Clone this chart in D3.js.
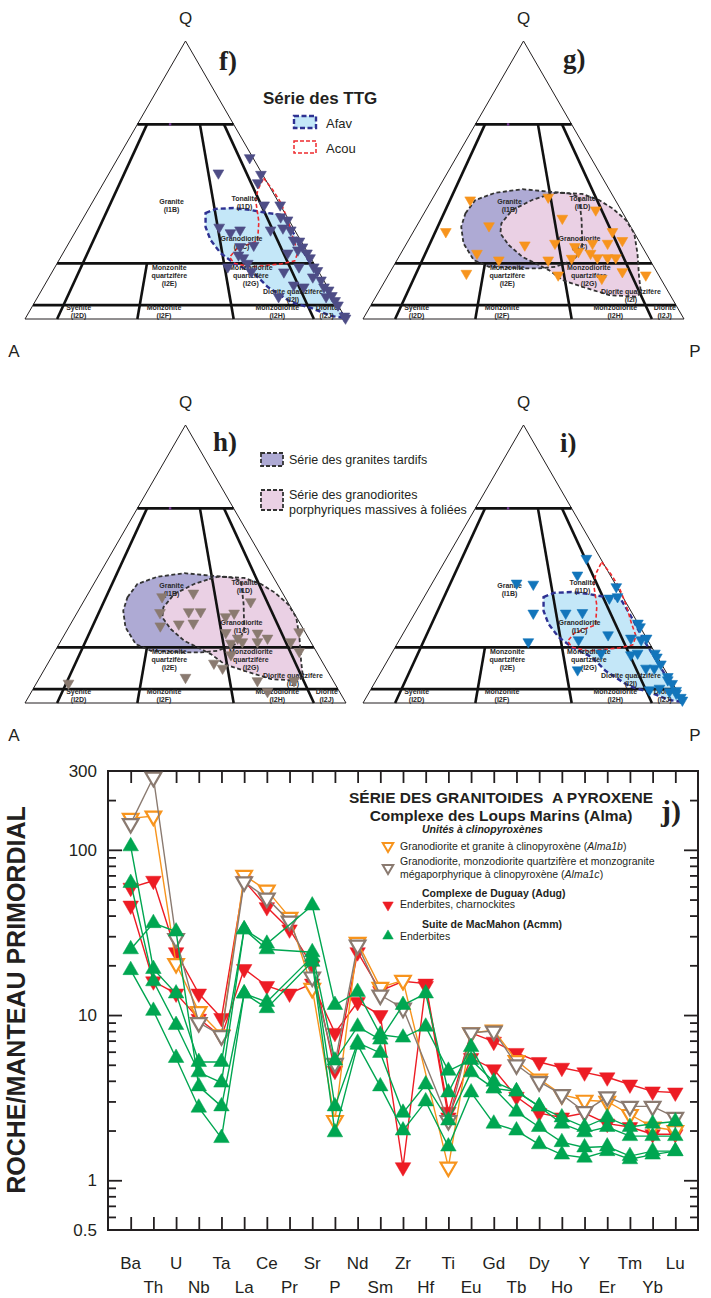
<!DOCTYPE html>
<html><head><meta charset="utf-8">
<script src="https://cdn.jsdelivr.net/npm/d3@7"></script>
<style>
body{margin:0;background:#fff}
svg{display:block}
text{font-family:"Liberation Sans",Arial,Helvetica,sans-serif;fill:#231f20}
</style></head>
<body><svg id="c" width="711" height="1298"></svg>
<script>
// ---------------- DATA ----------------
// QAP ternary points, [Q %, P %]
const ptsF = [[58,41],[52.5,34],[52,47.5],[49,48],[41,54],[41,59],[33,44],[31,48.5],[32,51],[26.5,58],[26,54],[23,55],[22,57],[32,60.5],[36.7,61.3],[35.6,64],[32.7,64],[32,66.8],[28.4,69.5],[28,71.5],[25.9,73.5],[24.8,72.6],[23.7,76],[22,77.8],[23.7,70],[18.7,76],[18.7,80.6],[17.4,82.4],[16.9,72.2],[15.1,82.1],[14,85.2],[11.5,87.4],[12.2,77.6],[11.5,81.1],[10.4,89.4],[8.4,91.4],[6.6,93.3],[5,95],[1,99],[0.3,99.7],[18.7,53.8],[20,59.4],[17,62],[8,75],[8,89.8]];
const ptsG = [[42.8,12],[31.4,10.1],[33.5,22.5],[23.6,23.7],[21.2,31.7],[16.4,24],[26.6,37.1],[43.8,35.8],[36.2,44],[27.2,46.2],[21.2,47.1],[15.8,52.9],[21.8,54.1],[26,53],[24.2,55],[27.2,57.9],[23.6,59.1],[22,62],[27.2,62.6],[22,65.2],[22,67.75],[39.2,52.9],[31.4,62],[28.2,66.7],[14.6,67.1],[17,72.3],[15.8,80.2]];
const ptsH = [[38.2,23.6],[39.5,32.7],[32.5,25.8],[27.7,28.3],[28.4,33.7],[32.8,34.6],[32.8,38.3],[28.7,38.1],[31,47],[32.3,49],[36.4,52.1],[25.3,49.9],[23.3,54.6],[22,56.7],[21.5,53.4],[25.1,59.9],[22,61.4],[23.3,63.9],[17.3,55.5],[14.3,51.7],[12.5,55.3],[9.2,45.4],[8,68.4],[25.6,72.6],[18.5,76.2],[22,71.8],[7.1,10],[4.1,73.5],[8,79.8]];
const ptsI = [[52,43.6],[46,43.8],[43.1,26.3],[42.7,31.7],[32.3,36.9],[22,40.5],[32.3,47],[32.5,52.1],[22.7,55.8],[24.5,64.1],[17.9,65.2],[11.9,60.9],[37.7,57.9],[38.2,60.2],[41.8,58],[28.7,71.3],[27.4,72.6],[23.3,71.8],[22.7,75.3],[23.3,76.7],[17.3,74.8],[17.9,76.6],[17.9,82],[16.5,83.3],[14,85.8],[12.5,81.9],[12.5,84.5],[9.5,90.2],[8.3,90.8],[7,92.8],[4.5,95.3],[1,99],[5.3,89.7],[4.1,93.4],[3.5,95.8],[2,98],[4.7,86.9]];
// Outlines of series fields, [Q %, P %]
const afavArea = [[38.1,37.2],[39.6,39.6],[39.9,45],[39.2,50.7],[38.1,56.6],[37.4,61.6],[31.3,67.8],[22.7,76.1],[13.7,85.4],[5,94.4],[0.4,99.4],[1.1,94.8],[4,87.1],[6.1,79.8],[11.5,69.9],[16.5,63],[20.1,55],[23.7,49.1],[28.4,43.6],[33.1,39.7]];
const acouArea = [[50.7,49],[46.4,54],[41.7,58.9],[35.6,64.1],[28.4,69.5],[24.1,73],[20.9,73.6],[19.8,69.8],[18.7,61],[20.1,55],[22.3,52.6],[25.2,53.3],[28.1,58.4],[34.9,55.4],[42.4,50.7],[46.4,49.3]];
const tardifsArea = [[38,12.9],[42.8,13.6],[45.4,18.5],[46.7,26.3],[45.8,35],[45.2,41.6],[43.8,45.4],[35.6,50.3],[26,55.3],[21.2,55.1],[18.8,50.6],[18.2,45.7],[18.2,40.5],[18.8,29.8],[21.2,23.9],[27.2,17.7],[33.2,14]];
const porphArea = [[44.6,35.1],[45.4,37.3],[45,45.8],[42.8,52.1],[39.8,57.8],[35.6,64.1],[30.8,69.1],[23.6,73.7],[15.2,78.4],[9.2,82],[8,81],[8.6,72.4],[11.6,62.5],[14,55.1],[17.6,49.1],[20,43.75],[22.4,38.4],[26.6,32.1],[30.8,27.4],[34.4,25.9],[39.2,26.9],[42.8,31.3]];
// QAP field boundaries [Q,P] -> [Q,P]
const fieldLines = [[[70,0],[70,30]],[[20,0],[20,80]],[[5,0],[5,95]],[[70,3],[0,10]],[[70,19.5],[0,65]],[[70,27],[0,90]],[[20,28],[0,35]]];
const fieldNames = [
 {t:["Granite","(I1B)"],q:42.1,p:24.6},
 {t:["Tonalite","(I1D)"],q:43.2,p:46.8},
 {t:["Granodiorite","(I1C)"],q:29.1,p:52.9},
 {t:["Monzonite","quartzifère","(I2E)"],q:18.7,p:35.6},
 {t:["Monzodiorite","quartzifère","(I2G)"],q:18.7,p:61},
 {t:["Diorite quartzifère","(I2I)"],q:9.9,p:78.5},
 {t:["Syenite","(I2D)"],q:4.0,p:14.7},
 {t:["Monzonite","(I2F)"],q:4.0,p:41.3},
 {t:["Monzodiorite","(I2H)"],q:4.0,p:76.6},
 {t:["Diorite","(I2J)"],q:4.0,p:92}
];

// Spider diagram
const elements = ["Ba","Th","U","Nb","Ta","La","Ce","Pr","Sr","P","Nd","Sm","Zr","Hf","Ti","Eu","Gd","Tb","Dy","Ho","Y","Er","Tm","Yb","Lu"];
const alma1b = [155,160,20.5,10.5,7.6,70,57,39,14.5,2.3,27.5,14.7,16.2,null,1.2,7.8,8.1,5.3,4.1,3.3,3.05,3.0,2.5,2.1,2.0];
const alma1c = [144,275,29,9,7.5,64,51,37,17,5.1,26.5,13.2,11,null,2.3,7.8,8.0,5.0,3.95,3.3,2.6,3.2,2.8,2.8,2.4];
const adug1 = [59,65,24,13.5,9.6,65,45,33,20,4.6,24,14,16,15.5,2.6,7.8,6.9,5.9,5.2,4.8,4.5,4.2,3.8,3.45,3.4];
const adug2 = [46,16,13.5,9.5,7.4,19,15,13.5,15.5,7.8,12,10,1.2,15,2.4,5.5,4.7,3.2,2.55,2.4,2.55,2.2,2.1,1.9,1.9];
const acmm1 = [105,19,13.5,5.2,5.2,33,27,null,46,11.5,13.8,7.6,7.3,8.5,4.6,5.35,3.95,3.45,2.8,2.4,2.1,2.4,2.1,2.2,2.27];
const acmm2 = [63,16,8.7,4.5,3.9,33,25,null,24,5.3,8.5,7.1,11.5,13.5,3.4,6.4,3.6,3.45,2.8,2.2,1.95,2.1,1.85,1.85,1.85];
const acmm3 = [25,36,32,3.7,2.8,13.5,12,null,22.5,2.8,6.8,5.9,2.56,3.8,2.3,4.5,3.6,2.6,2.1,1.7,1.58,1.6,1.4,1.5,1.5];
const acmm4 = [18.7,10.6,5.5,2.75,1.8,13.5,11,null,21,1.95,6.6,3.7,2.0,3.0,1.6,3.4,2.2,2.0,1.65,1.43,1.37,1.5,1.34,1.43,1.5];
const yTickLabels = [0.5,1,10,100,300];

// ---------------- DRAW ----------------
const svg = d3.select('#c');
const TL = 321, TH = 278;
const COL = {navy:'#2e3192', red:'#ed1c24', orange:'#f7941d', brown:'#8a7a70', green:'#00a651', blue:'#1275bb', slate:'#4e4d86'};
const styles = {
  afav:{fill:'#c4e7f8', stroke:COL.navy, w:2.4, dash:'5,3'},
  acou:{fill:'none', stroke:'#ee2a2e', w:1.6, dash:'4,2.5'},
  tardifs:{fill:'#aeaad4', stroke:'#333', w:1.8, dash:'4,2.5'},
  porph:{fill:'#ead0e4', stroke:'#333', w:1.8, dash:'4,2.5'}
};
const tris = [
  {id:'f', x0:25, y0:319, areas:[[afavArea,'afav'],[acouArea,'acou']], pts:ptsF, col:COL.slate},
  {id:'g', x0:363, y0:319, areas:[[tardifsArea,'tardifs'],[porphArea,'porph']], pts:ptsG, col:COL.orange},
  {id:'h', x0:25, y0:703, areas:[[tardifsArea,'tardifs'],[porphArea,'porph']], pts:ptsH, col:COL.brown},
  {id:'i', x0:363, y0:703, areas:[[afavArea,'afav'],[acouArea,'acou']], pts:ptsI, col:COL.blue}
];
const tri = d3.symbol(d3.symbolTriangle, 50);

tris.forEach(t => {
  const sx = d3.scaleLinear().domain([0,100]).range([t.x0, t.x0+TL]);
  const sy = d3.scaleLinear().domain([0,100]).range([t.y0, t.y0-TH]);
  const pr = d => [sx(d[1] + d[0]/2), sy(d[0])];
  const g = svg.append('g');
  const line = d3.line().x(d=>pr(d)[0]).y(d=>pr(d)[1]);
  g.append('path').attr('d', line([[100,0],[0,0],[0,100]])+'Z').attr('fill','#fff').attr('stroke','#231f20').attr('stroke-width',1);
  t.areas.forEach(([a,k]) => g.append('path').attr('d', line(a)+'Z').attr('fill', styles[k].fill).attr('stroke','none'));
  fieldLines.forEach(l => g.append('path').attr('d', line(l)).attr('stroke','#111').attr('stroke-width',2.6).attr('fill','none'));
  const c = pr([70,10.2]);
  g.append('rect').attr('x',c[0]-1.2).attr('y',c[1]-1.2).attr('width',2.4).attr('height',2.4).attr('fill','#7b3f98');
  t.areas.forEach(([a,k]) => g.append('path').attr('d', line(a)+'Z').attr('fill','none')
     .attr('stroke', styles[k].stroke).attr('stroke-width', styles[k].w).attr('stroke-dasharray', styles[k].dash));
  fieldNames.forEach(f => {
    const p = pr([f.q, f.p]);
    const tx = g.append('text').attr('text-anchor','middle').attr('font-size',7).attr('font-weight','bold').style('fill','#2a2a2a');
    f.t.forEach((s,i) => tx.append('tspan').attr('x',p[0]).attr('y',p[1]+2.5+i*8).text(s));
  });
  g.selectAll('.pt').data(t.pts).enter().append('path').attr('d', tri)
    .attr('transform', d => { const p = pr(d); return `translate(${p[0]},${p[1]}) rotate(180)`; })
    .attr('fill', t.col).attr('stroke', t.col).attr('stroke-width', 0.6);
  const apex = pr([100,0]);
  g.append('text').attr('x',apex[0]).attr('y',apex[1]-17).attr('text-anchor','middle').attr('font-size',17).text('Q');
});

[[14,357],[14,741]].forEach(p => svg.append('text').attr('x',p[0]).attr('y',p[1]).attr('text-anchor','middle').attr('font-size',17).text('A'));
[[695,357],[695,741]].forEach(p => svg.append('text').attr('x',p[0]).attr('y',p[1]).attr('text-anchor','middle').attr('font-size',17).text('P'));

[['f)',219,70],['g)',563,68],['h)',213,451],['i)',560,452],['j)',661,821]].forEach(d =>
  svg.append('text').attr('x',d[1]).attr('y',d[2]).attr('font-size',d[0]==='j)'?30:27).attr('font-weight','bold')
    .style('font-family','"Liberation Serif","Times New Roman",serif').text(d[0]));

svg.append('text').attr('x',263).attr('y',104).attr('font-size',17).attr('font-weight','bold').text('Série des TTG');
svg.append('rect').attr('x',294).attr('y',116).attr('width',22).attr('height',12).attr('fill',styles.afav.fill).attr('stroke',COL.navy).attr('stroke-width',2.4).attr('stroke-dasharray','5,2.5');
svg.append('text').attr('x',326).attr('y',128).attr('font-size',13).text('Afav');
svg.append('rect').attr('x',294).attr('y',141).attr('width',22).attr('height',12).attr('fill','#fff').attr('stroke','#ee2a2e').attr('stroke-width',1.5).attr('stroke-dasharray','4,2');
svg.append('text').attr('x',326).attr('y',153).attr('font-size',13).text('Acou');
svg.append('rect').attr('x',261).attr('y',453).attr('width',22).attr('height',13).attr('fill',styles.tardifs.fill).attr('stroke','#333').attr('stroke-width',1.8).attr('stroke-dasharray','4,2');
svg.append('text').attr('x',289).attr('y',464).attr('font-size',12.5).text('Série des granites tardifs');
svg.append('rect').attr('x',261).attr('y',490).attr('width',22).attr('height',20).attr('fill',styles.porph.fill).attr('stroke','#333').attr('stroke-width',1.8).attr('stroke-dasharray','4,2');
svg.append('text').attr('x',289).attr('y',499).attr('font-size',12.5).text('Série des granodiorites');
svg.append('text').attr('x',289).attr('y',514).attr('font-size',12.5).text('porphyriques massives à foliées');

// ---------------- SPIDER ----------------
const X0 = 108, X1 = 698, Y0 = 1230, Y1 = 771;
const xS = d3.scalePoint().domain(elements).range([X0, X1]).padding(1);
const yS = d3.scaleLog().domain([0.5, 300]).range([Y0, Y1]);
const ax = svg.append('g');
const clean = g => { g.select('.domain').remove(); g.selectAll('line').attr('stroke','#231f20').attr('stroke-width',1.8); };
ax.append('g').attr('transform',`translate(0,${Y0})`).call(d3.axisTop(xS).tickSize(13).tickFormat('')).call(clean);
ax.append('g').attr('transform',`translate(0,${Y1})`).call(d3.axisBottom(xS).tickSize(12).tickFormat('')).call(clean);
const majors = [1,10,100];
const minors = [0.6,0.7,0.8,0.9,2,3,4,5,6,7,8,9,20,30,40,50,60,70,80,90,200];
ax.append('g').attr('transform',`translate(${X0},0)`).call(d3.axisRight(yS).tickValues(majors).tickSize(14).tickFormat('')).call(clean);
ax.append('g').attr('transform',`translate(${X0},0)`).call(d3.axisRight(yS).tickValues(minors).tickSize(8).tickFormat('')).call(clean);
ax.append('g').attr('transform',`translate(${X1},0)`).call(d3.axisLeft(yS).tickValues(majors).tickSize(14).tickFormat('')).call(clean);
ax.append('g').attr('transform',`translate(${X1},0)`).call(d3.axisLeft(yS).tickValues(minors).tickSize(8).tickFormat('')).call(clean);
const lab = ax.append('g').attr('transform',`translate(${X0},0)`)
  .call(d3.axisLeft(yS).tickValues(yTickLabels).tickSize(0).tickPadding(11).tickFormat(d => d < 1 ? String(d) : d3.format('d')(d)));
lab.select('.domain').remove();
lab.attr('font-family', null).attr('font-size', null);
lab.selectAll('text').attr('font-size',17).style('fill','#231f20');
ax.append('rect').attr('x',X0).attr('y',Y1).attr('width',X1-X0).attr('height',Y0-Y1).attr('fill','none').attr('stroke','#231f20').attr('stroke-width',2);
elements.forEach((e,i) => svg.append('text').attr('x', xS(e)).attr('y', i%2===0 ? 1269 : 1293)
  .attr('text-anchor','middle').attr('font-size',17).text(e));
svg.append('text').attr('transform','translate(25,1000) rotate(-90)').attr('text-anchor','middle')
  .attr('font-size',25).attr('font-weight','bold').text('ROCHE/MANTEAU PRIMORDIAL');

const series = [
  {v:adug1, col:COL.red, open:false, up:false},
  {v:adug2, col:COL.red, open:false, up:false},
  {v:alma1b, col:COL.orange, open:true, up:false},
  {v:alma1c, col:COL.brown, open:true, up:false},
  {v:acmm1, col:COL.green, open:false, up:true},
  {v:acmm2, col:COL.green, open:false, up:true},
  {v:acmm3, col:COL.green, open:false, up:true},
  {v:acmm4, col:COL.green, open:false, up:true}
];
const sline = d3.line().x(d => xS(d.e)).y(d => yS(d.v));
const bigTri = d3.symbol(d3.symbolTriangle, 105);
const sp = svg.append('g');
series.forEach(s => {
  const pts = elements.map((e,i) => ({e, v:s.v[i]})).filter(d => d.v != null);
  sp.append('path').attr('d', sline(pts)).attr('fill','none').attr('stroke', s.col).attr('stroke-width',1.4);
  sp.selectAll(null).data(pts).enter().append('path').attr('d', bigTri)
    .attr('transform', d => `translate(${xS(d.e)},${yS(d.v)})` + (s.up ? '' : ' rotate(180)'))
    .attr('fill', s.open ? '#fff' : s.col).attr('stroke', s.col).attr('stroke-width', s.open ? 2.2 : 0.5);
});

const lg = svg.append('g');
lg.append('text').attr('x',501).attr('y',803).attr('text-anchor','middle').attr('font-size',15.5).attr('font-weight','bold').text('SÉRIE DES GRANITOIDES \u00A0A PYROXENE');
lg.append('text').attr('x',501).attr('y',821).attr('text-anchor','middle').attr('font-size',15.5).attr('font-weight','bold').text('Complexe des Loups Marins (Alma)');
lg.append('text').attr('x',422).attr('y',833).attr('font-size',10.5).attr('font-weight','bold').attr('font-style','italic').text('Unités à clinopyroxènes');
const smallTri = d3.symbol(d3.symbolTriangle, 48);
const lm = (x,y,col,open,up) => lg.append('path').attr('d', smallTri).attr('transform',`translate(${x},${y})`+(up?'':' rotate(180)'))
  .attr('fill', open ? '#fff' : col).attr('stroke', col).attr('stroke-width', open ? 2 : 0.5);
lm(388,846,COL.orange,true,false);
const t1 = lg.append('text').attr('x',400).attr('y',850).attr('font-size',10.5);
t1.append('tspan').text('Granodiorite et granite à clinopyroxène (');
t1.append('tspan').attr('font-style','italic').text('Alma1b');
t1.append('tspan').text(')');
lm(388,868,COL.brown,true,false);
lg.append('text').attr('x',400).attr('y',865).attr('font-size',10.5).text('Granodiorite, monzodiorite quartzifère et monzogranite');
const t2 = lg.append('text').attr('x',400).attr('y',878).attr('font-size',10.5);
t2.append('tspan').text('mégaporphyrique à clinopyroxène (');
t2.append('tspan').attr('font-style','italic').text('Alma1c');
t2.append('tspan').text(')');
lg.append('text').attr('x',422).attr('y',897).attr('font-size',10.5).attr('font-weight','bold').text('Complexe de Duguay (Adug)');
lm(388,905,COL.red,false,false);
lg.append('text').attr('x',400).attr('y',908).attr('font-size',10.5).text('Enderbites, charnockites');
lg.append('text').attr('x',422).attr('y',928).attr('font-size',10.5).attr('font-weight','bold').text('Suite de MacMahon (Acmm)');
lm(388,936,COL.green,false,true);
lg.append('text').attr('x',400).attr('y',940).attr('font-size',10.5).text('Enderbites');
</script></body></html>
